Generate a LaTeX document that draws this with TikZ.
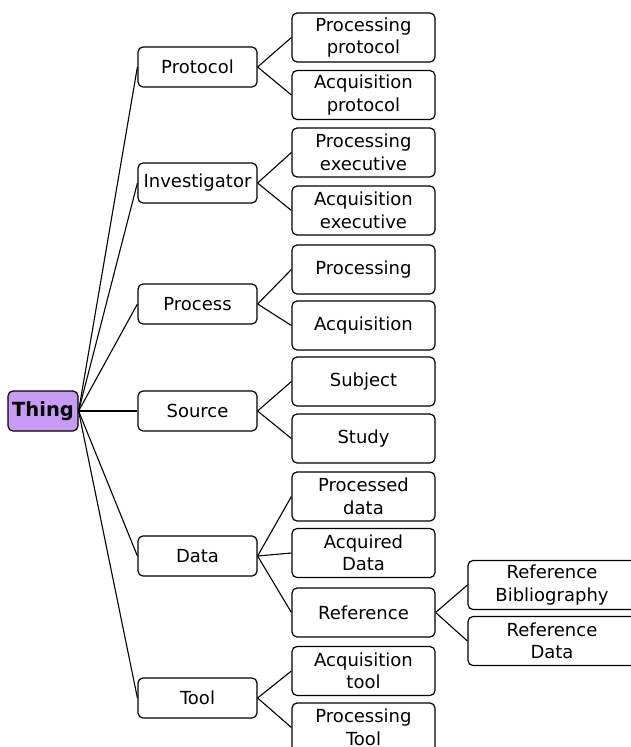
\documentclass[tikz,border=0pt]{standalone}
\usepackage{fontspec}
\setmainfont{DejaVu Sans}
\definecolor{thingfill}{RGB}{200,155,245}
\tikzset{
  box/.style={draw=black, line width=1.2pt, rounded corners=5pt, fill=white, align=center, inner sep=0pt, font=\fontsize{18}{22.5}\selectfont},
  lone/.style={box, minimum width=119pt, minimum height=40pt},
  ltwo/.style={box, minimum width=143pt, minimum height=49pt},
  lthree/.style={box, minimum width=168pt, minimum height=49pt},
  link/.style={draw=black, line width=1.1pt}
}
\begin{document}
\begin{tikzpicture}[x=1pt,y=-1pt]
\useasboundingbox (0,0) rectangle (631,747);
\clip (0,0) rectangle (631,747);
\node[box, minimum width=70pt, minimum height=40pt, fill=thingfill, font=\fontsize{19.5}{22}\selectfont\bfseries] (thing) at (43,411) {Thing};

\node[lone] (protocol) at (197.5,67) {Protocol};
\node[lone] (invest) at (197.5,183) {Investigator};
\node[lone] (process) at (197.5,304) {Process};
\node[lone] (source) at (197.5,411) {Source};
\node[lone] (data) at (197.5,556) {Data};
\node[lone] (tool) at (197.5,698) {Tool};

\node[ltwo] (pp) at (363.5,37.5) {Processing\\protocol};
\node[ltwo] (ap) at (363.5,95) {Acquisition\\protocol};
\node[ltwo] (pe) at (363.5,152.5) {Processing\\executive};
\node[ltwo] (ae) at (363.5,210.5) {Acquisition\\executive};
\node[ltwo] (pr) at (363.5,269.5) {Processing};
\node[ltwo] (ac) at (363.5,325.5) {Acquisition};
\node[ltwo] (su) at (363.5,381.5) {Subject};
\node[ltwo] (st) at (363.5,438.5) {Study};
\node[ltwo] (pd) at (363.5,496.5) {Processed\\data};
\node[ltwo] (ad) at (363.5,553) {Acquired\\Data};
\node[ltwo] (ref) at (363.5,612.5) {Reference};
\node[ltwo] (at) at (363.5,671) {Acquisition\\tool};
\node[ltwo] (pt) at (363.5,727.5) {Processing\\Tool};

\node[lthree] (rb) at (552,585) {Reference\\Bibliography};
\node[lthree] (rd) at (552,641) {Reference\\Data};

\foreach \n in {protocol,invest,process,source,data,tool}
  \draw[link] (thing.east) -- (\n.west);
\draw[link] (protocol.east) -- (pp.west);
\draw[link] (protocol.east) -- (ap.west);
\draw[link] (invest.east) -- (pe.west);
\draw[link] (invest.east) -- (ae.west);
\draw[link] (process.east) -- (pr.west);
\draw[link] (process.east) -- (ac.west);
\draw[link] (source.east) -- (su.west);
\draw[link] (source.east) -- (st.west);
\draw[link] (data.east) -- (pd.west);
\draw[link] (data.east) -- (ad.west);
\draw[link] (data.east) -- (ref.west);
\draw[link] (tool.east) -- (at.west);
\draw[link] (tool.east) -- (pt.west);
\draw[link] (ref.east) -- (rb.west);
\draw[link] (ref.east) -- (rd.west);
\end{tikzpicture}
\end{document}
